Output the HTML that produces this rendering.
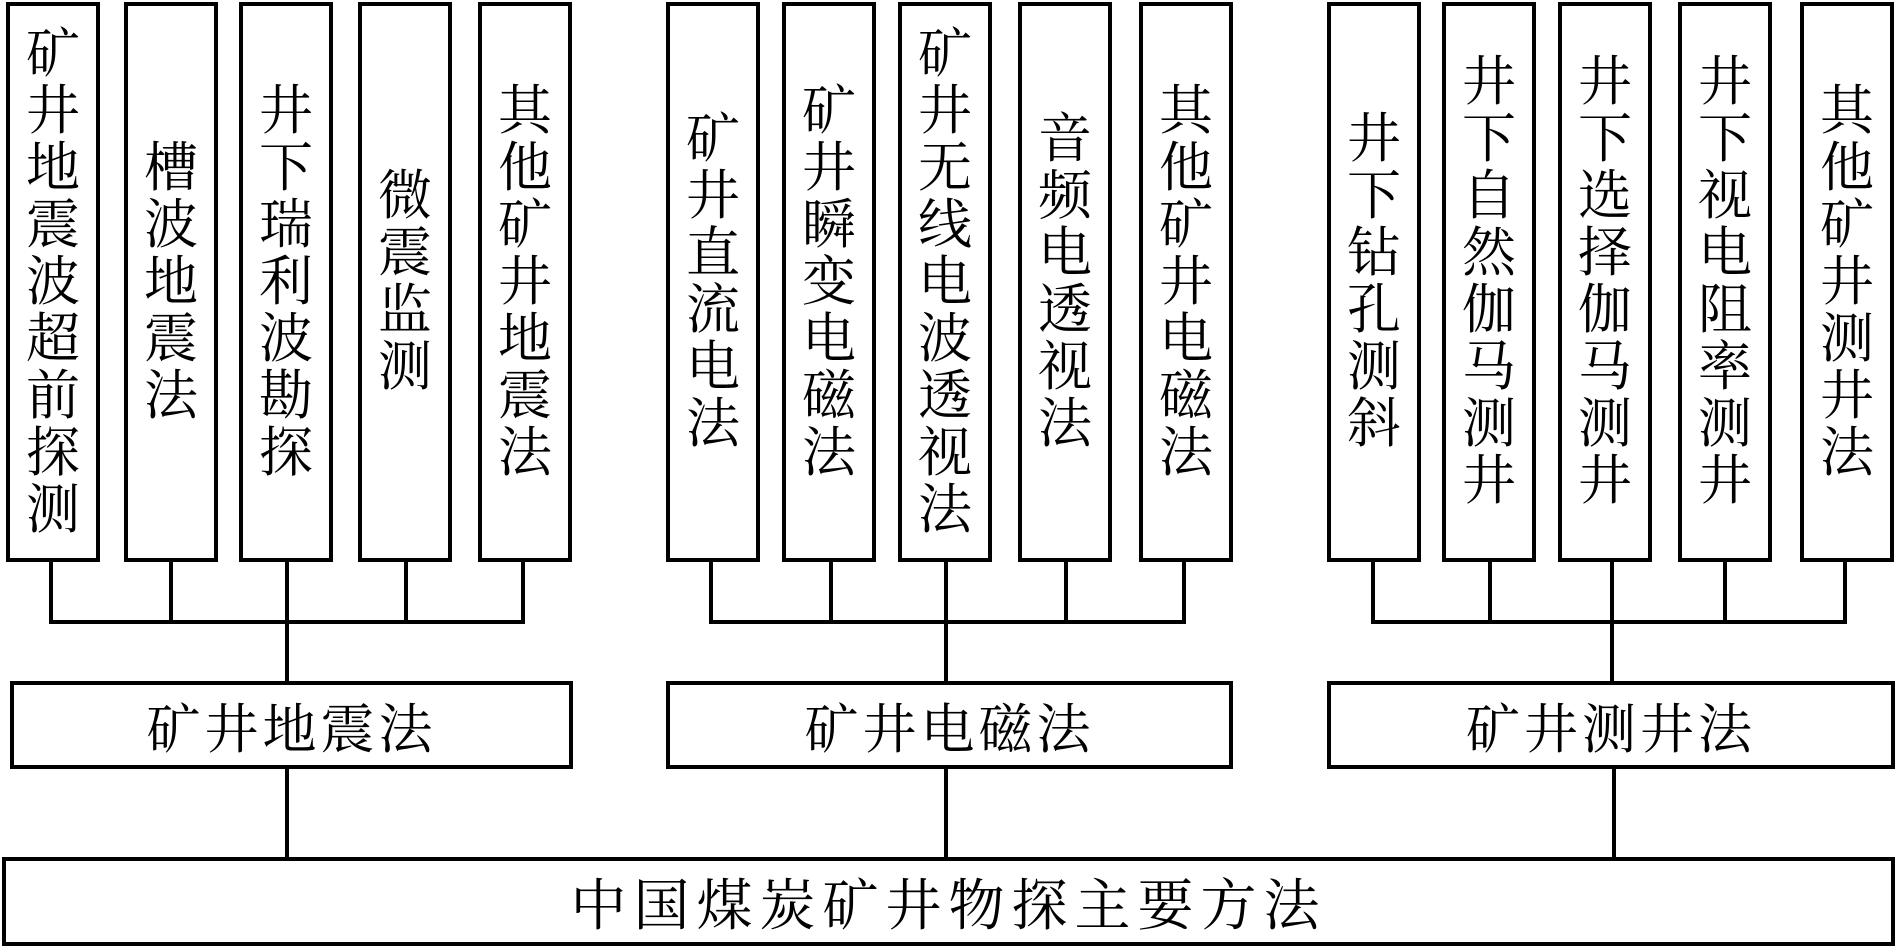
<!DOCTYPE html>
<html><head><meta charset="utf-8"><style>
body{margin:0;width:1900px;height:951px;background:#fff;position:relative;overflow:hidden;font-family:"Liberation Serif","Noto Serif CJK SC",serif;color:#000}
.b{position:absolute;box-sizing:border-box;border:4px solid #000;display:flex;align-items:center;justify-content:center;text-align:center}
.v{font-size:54px;line-height:57px;top:2px;height:560px;width:94px}
.m{font-size:54px;letter-spacing:4px;top:681px;height:88px}
.l{position:absolute;background:#000}
</style></head><body>
<div class="b v" style="left:6px">矿<br>井<br>地<br>震<br>波<br>超<br>前<br>探<br>测</div>
<div class="b v" style="left:124px">槽<br>波<br>地<br>震<br>法</div>
<div class="b v" style="left:239px">井<br>下<br>瑞<br>利<br>波<br>勘<br>探</div>
<div class="b v" style="left:358px">微<br>震<br>监<br>测</div>
<div class="b v" style="left:478px">其<br>他<br>矿<br>井<br>地<br>震<br>法</div>
<div class="b v" style="left:666px">矿<br>井<br>直<br>流<br>电<br>法</div>
<div class="b v" style="left:782px">矿<br>井<br>瞬<br>变<br>电<br>磁<br>法</div>
<div class="b v" style="left:898px">矿<br>井<br>无<br>线<br>电<br>波<br>透<br>视<br>法</div>
<div class="b v" style="left:1018px">音<br>频<br>电<br>透<br>视<br>法</div>
<div class="b v" style="left:1139px">其<br>他<br>矿<br>井<br>电<br>磁<br>法</div>
<div class="b v" style="left:1327px">井<br>下<br>钻<br>孔<br>测<br>斜</div>
<div class="b v" style="left:1442px">井<br>下<br>自<br>然<br>伽<br>马<br>测<br>井</div>
<div class="b v" style="left:1558px">井<br>下<br>选<br>择<br>伽<br>马<br>测<br>井</div>
<div class="b v" style="left:1678px">井<br>下<br>视<br>电<br>阻<br>率<br>测<br>井</div>
<div class="b v" style="left:1800px">其<br>他<br>矿<br>井<br>测<br>井<br>法</div>
<div class="l" style="left:49px;top:561px;width:4px;height:63px"></div>
<div class="l" style="left:169px;top:561px;width:4px;height:63px"></div>
<div class="l" style="left:285px;top:561px;width:4px;height:121px"></div>
<div class="l" style="left:404px;top:561px;width:4px;height:63px"></div>
<div class="l" style="left:521px;top:561px;width:4px;height:63px"></div>
<div class="l" style="left:49px;top:620px;width:476px;height:4px"></div>
<div class="l" style="left:709px;top:561px;width:4px;height:63px"></div>
<div class="l" style="left:829px;top:561px;width:4px;height:63px"></div>
<div class="l" style="left:944px;top:561px;width:4px;height:121px"></div>
<div class="l" style="left:1064px;top:561px;width:4px;height:63px"></div>
<div class="l" style="left:1182px;top:561px;width:4px;height:63px"></div>
<div class="l" style="left:709px;top:620px;width:477px;height:4px"></div>
<div class="l" style="left:1371px;top:561px;width:4px;height:63px"></div>
<div class="l" style="left:1488px;top:561px;width:4px;height:63px"></div>
<div class="l" style="left:1610px;top:561px;width:4px;height:121px"></div>
<div class="l" style="left:1723px;top:561px;width:4px;height:63px"></div>
<div class="l" style="left:1843px;top:561px;width:4px;height:63px"></div>
<div class="l" style="left:1371px;top:620px;width:476px;height:4px"></div>
<div class="b m" style="left:10px;width:563px">矿井地震法</div>
<div class="b m" style="left:666px;width:567px">矿井电磁法</div>
<div class="b m" style="left:1327px;width:568px">矿井测井法</div>
<div class="l" style="left:285px;top:768px;width:4px;height:91px"></div>
<div class="l" style="left:944px;top:768px;width:4px;height:91px"></div>
<div class="l" style="left:1612px;top:768px;width:4px;height:91px"></div>
<div class="b" style="left:2px;top:857px;width:1893px;height:89px;font-size:56px;letter-spacing:7px">中国煤炭矿井物探主要方法</div>
</body></html>
